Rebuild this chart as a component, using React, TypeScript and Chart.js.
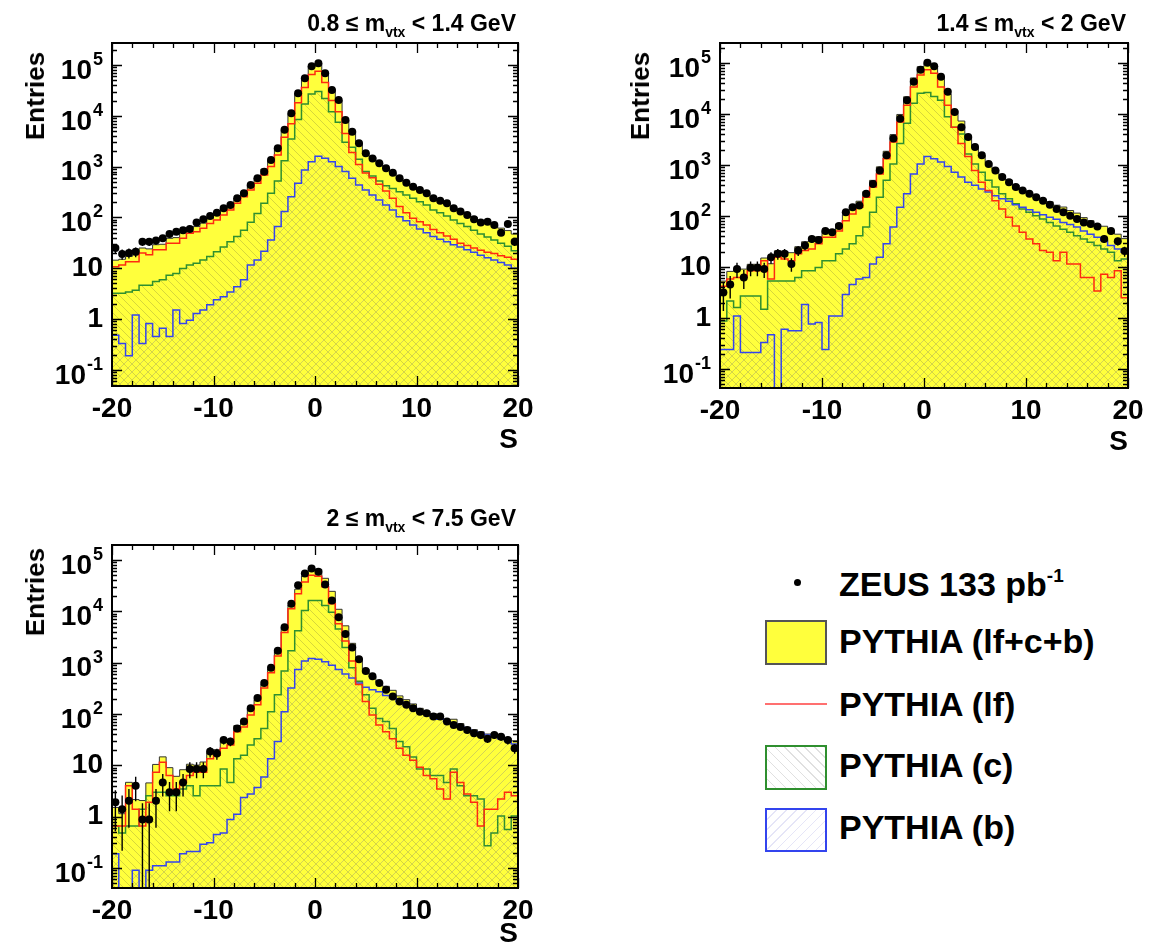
import React, { useEffect, useRef } from 'react';
import { Chart, registerables } from 'chart.js';

Chart.register(...registerables);

const FONT = "'Liberation Sans', Arial, Helvetica, sans-serif";

// ---- binning of S ----
const S_MIN = -20;
const S_MAX = 20;
const N_BINS = 60;
const binEdges: number[] = Array.from({ length: N_BINS + 1 }, (_, i) => S_MIN + (i * (S_MAX - S_MIN)) / N_BINS);
const binCenters: number[] = binEdges.slice(0, N_BINS).map((e, i) => (e + binEdges[i + 1]) / 2);

const xTickValues = [-20, -10, 0, 10, 20];
const yTickValues = [0.1, 1, 10, 100, 1000, 10000, 100000];
const yTickBase = ['10', '1', '10', '10', '10', '10', '10'];
const yTickExp = ['-1', '', '', '2', '3', '4', '5'];

// ---- panel 1 : 0.8 <= m_vtx < 1.4 GeV ----
const data1 = [25,19,20,21,33,33,35,39,47,52, 56,59,79,92,107,124,151,175,237,298, 434,587,795,1350,2290,5300,11200,27700,54700,95000, 108000,68500,32200,20500,8270,4870,2870,1830,1450,1160, 925,758,587,480,403,346,298,237,213,189, 151,130,111,92,79,82,71,50,74,33];
const tot1 = [14.4,15,17,18.3,25,24,29,29.6,38.8,40, 50,61,66,77,95,112,140,176,235,318, 437,603,896,1336,2290,5230,10750,27000,53900,93250, 106600,68500,33250,20500,8300,4890,2935,1900,1530,1190, 925,747,586,486,404,345,296,240,211,182, 155,133,117,101,87.5,77.5,70,61.5,55,47];
const lf1 = [10.7,11.5,13.4,13.4,20,18.5,23,23,31,31, 39,49,52,61,76,89,111,140,189,256, 346,469,685,1000,1700,3800,7000,18000,36000,65000, 75000,45000,20000,12000,4500,1900,1100,750,600,450, 330,237,163,124,96,82,71,58,50,43, 37,31,28,25,22.5,20.5,19.5,17.5,16.5,15];
const c1 = [3.2,3.2,3.4,3.7,4.6,4.6,5.5,5.9,7.3,7.9, 9.9,11.5,12.5,14.5,17,21,26,33,42,56, 80,120,190,300,520,1300,3500,8500,17000,27000, 30000,22000,12000,7500,3000,2400,1400,800,650,520, 420,370,320,276,237,204,175,140,124,106, 89,76,66,56,47,41,36,31,27,22];
const b1 = [0.48,0.33,0.19,1.2,0.33,0.82,0.45,0.66,0.45,1.5, 0.82,0.95,1.29,1.5,1.9,2.4,2.75,3.4,4.3,5.9, 11.5,14.5,21.5,36,66,130,256,469,857,1250, 1600,1460,1250,1000,800,590,435,346,276,220, 175,140,103,86,71,59,50,42,37,33, 29,26,23,20.5,18,16,14.5,13,11.5,10];

// ---- panel 2 : 1.4 <= m_vtx < 2 GeV ----
const data2 = [3.15,4.55,9.1,6.2,9.7,9.7,9.1,15.5,18.2,18.2, 11.5,21,26.5,35.5,34,51,48,64,118,148, 160,272,425,780,1550,3300,8100,18700,43000,74000, 101000,86000,54000,27300,11000,5500,3550,2250,1550,1050, 780,580,460,370,318,272,234,200,167,137, 118,101,87,75,70,62,35.5,51,32,20.5];
const tot2 = [5.3,8.2,8.9,9.1,11.3,11.3,15,11.6,20.8,20.2, 19.1,25,31.3,31.7,39,52,52.8,70,106,142, 195,301,500,920,1860,3940,9800,21800,50900,84650, 102000,86300,53850,24600,11700,7280,3580,2230,1520,1113, 820,626,507,404,333,286,248,214,190,163, 150,128,114,93,81,68,63,52,44,36];
const lf2 = [4.2,5.8,6.2,6.2,8.4,8.4,13.2,5.8,15.5,14.3, 13.2,18.2,21,22.5,28.5,38.5,38.5,51,81,109, 148,234,370,670,1330,2830,7000,14900,34000,58000, 74000,63000,34000,14900,5500,2650,1470,780,460,318, 200,137,95,64,48,35.5,28.5,21,19.5,13.2, 19.5,11.5,11.5,6.2,6.2,3.4,7.2,6.2,8.4,2.5];
const c2 = [0.87,2.15,1.6,2.7,2.7,2.7,1.48,5.3,5.3,5.3, 5.3,6.2,8.4,8.4,9.8,13.2,13.2,18.2,22.5,28.5, 41,61,118,234,500,1050,2650,6600,16200,25600, 26500,22000,18700,8800,5500,4050,1650,1050,720,500, 370,272,217,173,137,118,101,87,75,64, 55,48,41,35.5,30.5,26.5,22.5,19.5,13.2,14.3];
const b2 = [0.24,0.24,1.1,0.21,0.21,0.21,0.33,0.47,0,0.6, 0.56,0.56,1.85,0.76,0.82,0.24,1.1,1.1,2.9,4.55, 5.8,6.2,11.5,15.5,28.5,61,148,272,670,1050, 1470,1330,1150,940,720,580,460,400,340,295, 250,217,195,167,148,132,118,106,95,86, 75,68,61,51,44,38.5,33,26.5,22.5,19.5];

// ---- panel 3 : 2 <= m_vtx < 7.5 GeV ----
const data3 = [1.9,1.4,2.03,4.0,0.88,0.88,2.03,4.6,3.0,3.0, 4.6,8.5,8.5,8.5,18.5,17,31,29,52,71, 130,204,403,795,1700,4870,14000,32200,54700,68500, 58900,33500,16300,7700,3600,1970,1160,685,545,403, 298,220,175,151,130,111,103,89,89,71, 61,56,49,42,39,33,39,36,31,21.5];
const tot3 = [1.51,1.14,4.66,2.15,2.06,4.54,10.4,14.6,9.0,6.1, 8.2,10.5,10.1,11.6,17.7,20.2,30.5,30.5,59.5,74, 124,188,378,758,1616,4676,13220,27000,48900,68200, 65500,44000,24500,10960,5220,2380,1213,742,524,413, 346,289,225,190,157,129,114,101,89,78, 79,65,55,49.5,45,40.7,37.9,36.2,33.6,30];
const lf3 = [0.66,0.66,4.0,1.4,0.66,1.9,7.3,11.5,6.3,3.45, 4.6,6.3,7.3,7.3,13.4,15.7,21.5,25,45,56, 96,151,320,634,1350,3880,11200,22000,37400,50700, 48000,30000,14000,5700,2650,1080,375,175,96,61, 45,33,21.5,15.7,12.5,9.2,6.3,5.5,3.45,2.2, 7.3,4.6,2.75,1.9,0.66,1.4,1.4,2.2,3.0,2.55];
const c3 = [0.66,0.48,0.66,0.66,1.4,2.55,3.0,3.0,2.55,2.55, 3.45,4.0,2.55,4.0,4.0,4.0,8.5,4.6,13.4,15.7, 25,33,52,111,237,685,1700,4200,10400,16300, 16300,13000,9620,4520,1970,795,435,237,130,82, 71,52,29,23,14.5,8.5,8.5,6.3,6.3,4.6, 8.5,4.0,2.55,2.55,2.2,0.27,0.48,1.03,0.56,1.03];
const b3 = [0.19,0,0,0.09,0,0.09,0.11,0.11,0.13,0.13, 0.19,0.21,0.21,0.29,0.31,0.45,0.48,0.88,1.11,2.37, 2.75,3.7,5.9,13.4,29,111,320,737,1080,1200, 1160,1040,890,737,600,505,403,330,298,270, 230,204,175,151,130,111,99,89,79,71, 63,56,50,45,42,39,36,33,30,26];

// ---- styles ----
const YELLOW = '#ffff3c';
const RED = '#ff2a10';
const GREEN = '#2f8f2f';
const BLUE = '#3344ee';
const EMPTY_BIN = 1e-4; // empty bins are drawn down through the bottom of the frame

function makeHatch(dir: number, color: string): CanvasPattern | string {
  const c = document.createElement('canvas');
  c.width = 8;
  c.height = 8;
  const g = c.getContext('2d');
  if (!g) return 'rgba(0,0,0,0)';
  g.strokeStyle = color;
  g.lineWidth = 1;
  g.beginPath();
  if (dir > 0) {
    g.moveTo(0, 8); g.lineTo(8, 0);
    g.moveTo(-1, 1); g.lineTo(1, -1);
    g.moveTo(7, 9); g.lineTo(9, 7);
  } else {
    g.moveTo(0, 0); g.lineTo(8, 8);
    g.moveTo(-1, 7); g.lineTo(1, 9);
    g.moveTo(7, -1); g.lineTo(9, 1);
  }
  g.stroke();
  return g.createPattern(c, 'repeat') || 'rgba(0,0,0,0)';
}

// frame with ROOT-style inward ticks, plus the y tick labels with real superscripts
const frameTicks = {
  id: 'frameTicks',
  afterDraw(chart: any) {
    const { ctx, chartArea: a, scales } = chart;
    const xs = scales.x;
    const ys = scales.y;
    ctx.save();
    ctx.strokeStyle = '#000';
    ctx.lineWidth = 1.3;
    ctx.beginPath();
    for (let e = -3; e <= 6; e++) {
      for (let k = 1; k <= 9; k++) {
        const v = k * Math.pow(10, e);
        if (v < ys.min || v > ys.max) continue;
        const py = Math.round(ys.getPixelForValue(v)) + 0.5;
        const len = k === 1 ? 10 : 5;
        ctx.moveTo(a.left, py); ctx.lineTo(a.left + len, py);
        ctx.moveTo(a.right, py); ctx.lineTo(a.right - len, py);
      }
    }
    for (let v = S_MIN; v <= S_MAX; v += 2) {
      const px = Math.round(xs.getPixelForValue(v)) + 0.5;
      const len = v % 10 === 0 ? 10 : 5;
      ctx.moveTo(px, a.bottom); ctx.lineTo(px, a.bottom - len);
      ctx.moveTo(px, a.top); ctx.lineTo(px, a.top + len);
    }
    ctx.stroke();
    ctx.lineWidth = 2;
    ctx.strokeRect(a.left, a.top, a.right - a.left, a.bottom - a.top);

    // y tick labels
    ctx.fillStyle = '#000';
    ctx.textBaseline = 'middle';
    ctx.textAlign = 'right';
    const xr = a.left - 9;
    yTickValues.forEach((v, i) => {
      const py = ys.getPixelForValue(v);
      const exp = yTickExp[i];
      if (exp) {
        ctx.font = `bold 18px ${FONT}`;
        const w = ctx.measureText(exp).width;
        ctx.fillText(exp, xr, py - 5);
        ctx.font = `bold 28px ${FONT}`;
        ctx.fillText(yTickBase[i], xr - w - 1, py + 6);
      } else {
        ctx.font = `bold 28px ${FONT}`;
        ctx.fillText(yTickBase[i], xr, py);
      }
    });
    ctx.restore();
  },
};

// statistical (Poisson) error bars on the data points
const errorBars = {
  id: 'errorBars',
  afterDatasetsDraw(chart: any) {
    const idx = chart.data.datasets.findIndex((d: any) => d.isData);
    if (idx < 0) return;
    const meta = chart.getDatasetMeta(idx);
    const ys = chart.scales.y;
    const a = chart.chartArea;
    const ctx = chart.ctx;
    ctx.save();
    ctx.beginPath();
    ctx.rect(a.left, a.top, a.right - a.left, a.bottom - a.top);
    ctx.clip();
    ctx.strokeStyle = '#000';
    ctx.lineWidth = 1.4;
    ctx.beginPath();
    chart.data.datasets[idx].data.forEach((pt: any, i: number) => {
      if (pt.y == null) return;
      const err = Math.sqrt(pt.y);
      const hi = ys.getPixelForValue(pt.y + err);
      const lo = pt.y - err > 0 ? ys.getPixelForValue(pt.y - err) : a.bottom;
      const px = meta.data[i].x;
      ctx.moveTo(px, hi);
      ctx.lineTo(px, lo);
    });
    ctx.stroke();
    ctx.restore();
  },
};

type PanelProps = {
  left: number; top: number; width: number; height: number;
  pad: { left: number; top: number; right: number; bottom: number };
  yAxisW: number; xAxisH: number; yMin: number; yMax: number;
  data: number[]; tot: number[]; lf: number[]; c: number[]; b: number[];
};

function Panel(p: PanelProps) {
  const ref = useRef<HTMLCanvasElement>(null);
  useEffect(() => {
    if (!ref.current) return;
    const toHist = (vals: number[]) => [
      ...vals.map((v, i) => ({ x: binEdges[i], y: v > 0 ? v : EMPTY_BIN })),
      { x: binEdges[N_BINS], y: vals[N_BINS - 1] > 0 ? vals[N_BINS - 1] : EMPTY_BIN },
    ];
    const hatchC = makeHatch(-1, 'rgba(120,120,60,0.3)');
    const hatchB = makeHatch(1, 'rgba(110,110,150,0.3)');
    const tickFont = { family: FONT, size: 28, weight: 'bold' as const };
    const chart = new Chart(ref.current, {
      type: 'line',
      data: {
        datasets: [
          { label: 'PYTHIA (lf+c+b)', data: toHist(p.tot), stepped: true, fill: 'start', backgroundColor: YELLOW, borderColor: '#333', borderWidth: 1, pointRadius: 0, order: 5 },
          { label: 'PYTHIA (c)', data: toHist(p.c), stepped: true, fill: 'start', backgroundColor: hatchC as any, borderColor: GREEN, borderWidth: 1.5, pointRadius: 0, order: 4 },
          { label: 'PYTHIA (b)', data: toHist(p.b), stepped: true, fill: 'start', backgroundColor: hatchB as any, borderColor: BLUE, borderWidth: 1.5, pointRadius: 0, order: 3 },
          { label: 'PYTHIA (lf)', data: toHist(p.lf), stepped: true, fill: false, borderColor: RED, borderWidth: 1.5, pointRadius: 0, order: 2 },
          { label: 'ZEUS 133 pb-1', isData: true, data: p.data.map((v, i) => ({ x: binCenters[i], y: v > 0 ? v : null })) as any, showLine: false, pointRadius: 4, pointBorderWidth: 0, pointBackgroundColor: '#000', borderColor: '#000', order: 1 } as any,
        ],
      },
      options: {
        responsive: false,
        maintainAspectRatio: false,
        animation: false,
        layout: { padding: p.pad },
        plugins: { legend: { display: false }, tooltip: { enabled: false } },
        scales: {
          x: {
            type: 'linear', min: S_MIN, max: S_MAX,
            afterBuildTicks: (s: any) => { s.ticks = xTickValues.map((v) => ({ value: v })); },
            afterFit: (s: any) => { s.height = p.xAxisH; },
            grid: { display: false, drawTicks: false },
            border: { display: false },
            ticks: { font: tickFont, color: '#000', padding: 6, maxRotation: 0, autoSkip: false, callback: (v: any) => String(v) },
            title: { display: true, text: 'S', align: 'end', color: '#000', font: { family: FONT, size: 28, weight: 'bold' }, padding: 0 },
          },
          y: {
            type: 'logarithmic', min: p.yMin, max: p.yMax,
            afterBuildTicks: (s: any) => { s.ticks = yTickValues.map((v) => ({ value: v })); },
            afterFit: (s: any) => { s.width = p.yAxisW; },
            grid: { display: false, drawTicks: false },
            border: { display: false },
            ticks: { display: false },
            title: { display: false },
          },
        },
      } as any,
      plugins: [errorBars, frameTicks],
    });
    return () => chart.destroy();
  }, []);
  return (
    <canvas
      ref={ref}
      width={p.width}
      height={p.height}
      style={{ position: 'absolute', left: p.left, top: p.top, width: p.width, height: p.height }}
    />
  );
}

function PanelTitle({ right, top, lo, hi }: { right: number; top: number; lo: string; hi: string }) {
  return (
    <div style={{ position: 'absolute', left: 0, width: right, top, textAlign: 'right', fontFamily: FONT, fontWeight: 'bold', fontSize: 23, lineHeight: '23px', whiteSpace: 'nowrap', color: '#000' }}>
      {lo} ≤ m<span style={{ fontSize: 14, position: 'relative', top: 6 }}>vtx</span> &lt; {hi} GeV
    </div>
  );
}

function YTitle({ left, top }: { left: number; top: number }) {
  return (
    <div style={{ position: 'absolute', left, top, writingMode: 'vertical-rl', transform: 'rotate(180deg)', fontFamily: FONT, fontWeight: 'bold', fontSize: 26, lineHeight: '26px', whiteSpace: 'nowrap', color: '#000' }}>
      Entries
    </div>
  );
}

const legendText: React.CSSProperties = { position: 'absolute', left: 839, fontFamily: FONT, fontWeight: 'bold', fontSize: 34, lineHeight: '34px', whiteSpace: 'nowrap', color: '#000' };
const legendBox: React.CSSProperties = { position: 'absolute', left: 765, width: 58, boxSizing: 'content-box' };

function Legend() {
  return (
    <>
      <div style={{ position: 'absolute', left: 794, top: 579, width: 7, height: 7, borderRadius: '50%', background: '#000' }} />
      <div style={{ ...legendText, top: 567 }}>
        ZEUS 133 pb<span style={{ fontSize: 19, position: 'relative', top: -14 }}>-1</span>
      </div>
      <div style={{ ...legendBox, top: 620, height: 41, background: YELLOW, border: '2px solid #555' }} />
      <div style={{ ...legendText, top: 624 }}>PYTHIA (lf+c+b)</div>
      <div style={{ position: 'absolute', left: 765, top: 703, width: 62, height: 2, background: '#ff7070' }} />
      <div style={{ ...legendText, top: 687 }}>PYTHIA (lf)</div>
      <div style={{ ...legendBox, top: 745, height: 41, border: `2px solid ${GREEN}`, background: 'repeating-linear-gradient(45deg, rgba(255,255,255,0) 0px, rgba(255,255,255,0) 6px, rgba(0,0,0,0.12) 6px, rgba(0,0,0,0.12) 7px)' }} />
      <div style={{ ...legendText, top: 748 }}>PYTHIA (c)</div>
      <div style={{ ...legendBox, top: 808, height: 40, border: `2px solid ${BLUE}`, background: 'repeating-linear-gradient(-45deg, rgba(255,255,255,0) 0px, rgba(255,255,255,0) 6px, rgba(80,80,200,0.15) 6px, rgba(80,80,200,0.15) 7px)' }} />
      <div style={{ ...legendText, top: 810 }}>PYTHIA (b)</div>
    </>
  );
}

export default function App() {
  return (
    <div style={{ position: 'absolute', left: 0, top: 0, width: 1151, height: 951, overflow: 'hidden', background: '#fff' }}>
      <Panel left={0} top={0} width={540} height={470} pad={{ left: 20, top: 43, right: 22, bottom: 13 }} yAxisW={92} xAxisH={71}
        yMin={0.048} yMax={271000} data={data1} tot={tot1} lf={lf1} c={c1} b={b1} />
      <Panel left={600} top={0} width={551} height={470} pad={{ left: 24, top: 43, right: 23, bottom: 11 }} yAxisW={96} xAxisH={71}
        yMin={0.0424} yMax={247000} data={data2} tot={tot2} lf={lf2} c={c2} b={b2} />
      <Panel left={0} top={500} width={540} height={451} pad={{ left: 20, top: 45, right: 22, bottom: 0 }} yAxisW={92} xAxisH={63}
        yMin={0.0407} yMax={196000} data={data3} tot={tot3} lf={lf3} c={c3} b={b3} />
      <YTitle left={22} top={52} />
      <YTitle left={627} top={52} />
      <YTitle left={22} top={548} />
      <PanelTitle right={516} top={12} lo="0.8" hi="1.4" />
      <PanelTitle right={1126} top={12} lo="1.4" hi="2" />
      <PanelTitle right={516} top={507} lo="2" hi="7.5" />
      <Legend />
    </div>
  );
}
